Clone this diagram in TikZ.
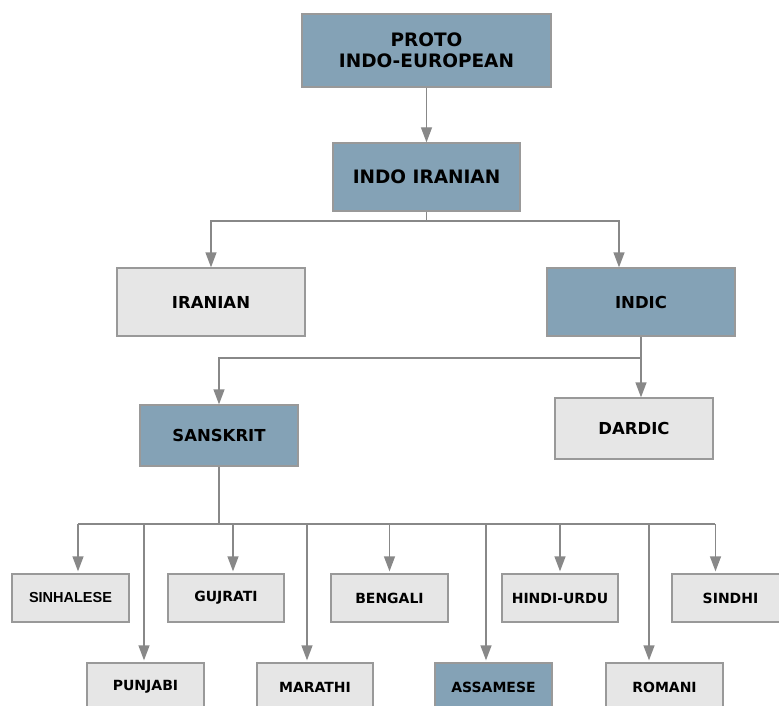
\documentclass[tikz,border=0pt]{standalone}
\usepackage{fontspec}
\setmainfont{DejaVu Sans}
\newfontfamily\arialfont{Liberation Sans}
\usetikzlibrary{arrows.meta,calc}

\definecolor{steelfill}{HTML}{84A2B6}
\definecolor{palefill}{HTML}{E6E6E6}
\definecolor{edgegray}{HTML}{999999}
\definecolor{linegray}{HTML}{888888}

\tikzset{
  box/.style={rectangle, draw=edgegray, line width=1.3pt, inner sep=0pt, align=center, font=\bfseries},
  bluebox/.style={box, fill=steelfill},
  greybox/.style={box, fill=palefill},
  bigtext/.style={font=\bfseries\fontsize{18.5}{21.5}\selectfont},
  midtext/.style={font=\bfseries\fontsize{16.5}{19}\selectfont},
  smalltext/.style={font=\bfseries\fontsize{14}{16}\selectfont},
  wire/.style={draw=linegray, line width=1.3pt},
  link/.style={wire, -{Triangle[width=11pt,length=15pt]}},
}

\begin{document}
\begin{tikzpicture}[x=1pt, y=-1pt]
        \useasboundingbox (0,0) rectangle (779,706);

        % Nodes
        \node (proto) [bluebox, bigtext, minimum width=249pt, minimum height=73pt] at (426.5, 50.5) {PROTO\\INDO-EUROPEAN};
        \node (indoiranian) [bluebox, bigtext, minimum width=187pt, minimum height=68pt] at (426.5, 177) {INDO IRANIAN};
        \node (iranian) [greybox, midtext, minimum width=188pt, minimum height=68pt] at (211, 302) {IRANIAN};
        \node (indic) [bluebox, midtext, minimum width=188pt, minimum height=68pt] at (641, 302) {INDIC};
        \node (sanskrit) [bluebox, midtext, minimum width=158pt, minimum height=61pt] at (219, 435.5) {SANSKRIT};
        \node (dardic) [greybox, midtext, minimum width=158pt, minimum height=61pt] at (634, 428.5) {DARDIC};

        \node (sinhalese) [greybox, minimum width=117pt, minimum height=48pt, font=\arialfont\bfseries\fontsize{14.5}{16}\selectfont] at (70.5, 598) {SINHALESE};
        \node (gujrati) [greybox, smalltext, minimum width=116pt, minimum height=48pt] at (226, 598) {GUJRATI};
        \node (bengali) [greybox, smalltext, minimum width=117pt, minimum height=48pt] at (389.5, 598) {BENGALI};
        \node (hindiurdu) [greybox, smalltext, minimum width=116pt, minimum height=48pt] at (560, 598) {HINDI-URDU};
        \node (sindhi) [greybox, smalltext, minimum width=117pt, minimum height=48pt] at (730.5, 598) {SINDHI};

        \node (punjabi) [greybox, smalltext, minimum width=117pt, minimum height=48pt] at (145.5, 687) {PUNJABI};
        \node (marathi) [greybox, smalltext, minimum width=116pt, minimum height=48pt] at (315, 687) {MARATHI};
        \node (assamese) [bluebox, smalltext, minimum width=117pt, minimum height=48pt] at (493.5, 687) {ASSAMESE};
        \node (romani) [greybox, smalltext, minimum width=117pt, minimum height=48pt] at (664.5, 687) {ROMANI};

        % Branch points
        \coordinate (split1) at (426.5, 221);
        \coordinate (split2) at (641, 358);
        \coordinate (split3) at (219, 524);
        \coordinate (busw) at (78, 524);
        \coordinate (buse) at (715, 524);

        % Edges
        \draw[link] (proto) -- (indoiranian);
        \draw[wire] (indoiranian) -- (split1);
        \draw[link] (split1) -| (iranian.north);
        \draw[link] (split1) -| ($(indic.north)+(-22,0)$);
        \draw[wire] (indic) -- (split2);
        \draw[link] (split2) -| (sanskrit.north);
        \draw[link] (split2) -- (split2 |- dardic.north);
        \draw[wire] (sanskrit) -- (split3);
        \draw[wire] (busw) -- (buse);
        \foreach \n/\dx in {sinhalese/7.5, gujrati/7, bengali/0, hindiurdu/0, sindhi/-15,
                            punjabi/-1.5, marathi/-8, assamese/-7.5, romani/-15.5} {
            \coordinate (top) at ($(\n.north)+(\dx,0)$);
            \draw[link, shorten >=2pt] (top |- split3) -- (top);
        }
    \end{tikzpicture}
\end{document}
